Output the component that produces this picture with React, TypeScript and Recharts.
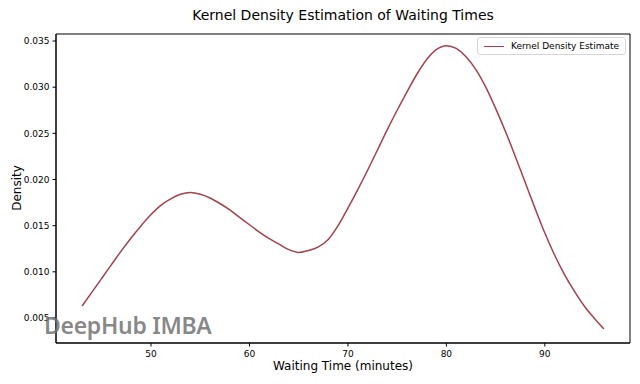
import { LineChart, Line, XAxis, YAxis, Legend, ReferenceArea } from 'recharts'

const waitingTime = [
  43, 44, 45, 46, 47, 48, 49, 50, 51, 52, 53, 54, 55, 56, 57, 58, 59, 60,
  61, 62, 63, 64, 65, 66, 67, 68, 69, 70, 71, 72, 73, 74, 75, 76, 77, 78,
  79, 80, 81, 82, 83, 84, 85, 86, 87, 88, 89, 90, 91, 92, 93, 94, 95, 96,
]

const density = [
  0.0063, 0.0078, 0.0093, 0.0108, 0.0123, 0.0137, 0.015, 0.0162, 0.0172, 0.0179, 0.0184, 0.0186,
  0.0184, 0.018, 0.0174, 0.0167, 0.0159, 0.0151, 0.0143, 0.0136, 0.013, 0.0124, 0.0121, 0.0123,
  0.0127, 0.0135, 0.015, 0.0169, 0.0189, 0.021, 0.0232, 0.0254, 0.0275, 0.0295, 0.0314, 0.033,
  0.0341, 0.0345, 0.0342, 0.0333, 0.0319, 0.03, 0.0277, 0.0252, 0.0225, 0.0197, 0.0169, 0.0142,
  0.0118, 0.0097, 0.0079, 0.0063, 0.005, 0.0038,
]

const xTicks = [50, 60, 70, 80, 90]
const yTicks = [0.005, 0.01, 0.015, 0.02, 0.025, 0.03, 0.035]
const seriesName = 'Kernel Density Estimate'

const data = waitingTime.map((t, i) => ({ t, kde: density[i] }))

const xDomain = [40.35, 98.65]
const yDomain = [0.00229, 0.03576]
const font = '"DejaVu Sans", sans-serif'
const lineColor = '#a3424b'
const tickStyle = { fill: '#000', fontSize: 9, fontFamily: font }

function LegendBox() {
  return (
    <div
      style={{
        display: 'flex',
        alignItems: 'center',
        border: '1px solid #d6d6d6',
        borderRadius: 3,
        background: 'rgba(255,255,255,0.85)',
        padding: '3px 6px 3px 6px',
        fontFamily: font,
        fontSize: 9,
        color: '#000',
        whiteSpace: 'nowrap',
      }}
    >
      <span style={{ display: 'inline-block', width: 20, height: 0, borderTop: `1.5px solid ${lineColor}`, marginRight: 7 }} />
      {seriesName}
    </div>
  )
}

export default function App() {
  return (
    <div style={{ position: 'fixed', left: 0, top: 0, width: 640, height: 384, background: '#fff' }}>
      <div
        style={{
          position: 'absolute',
          left: 56,
          width: 574,
          top: 7,
          textAlign: 'center',
          fontFamily: font,
          fontSize: 14,
          color: '#000',
        }}
      >
        Kernel Density Estimation of Waiting Times
      </div>

      <LineChart width={640} height={384} data={data} margin={{ top: 34, right: 10, bottom: 0, left: 0 }}>
        <XAxis
          dataKey="t"
          type="number"
          domain={xDomain}
          ticks={xTicks}
          allowDataOverflow
          height={41}
          tick={tickStyle}
          tickSize={3.5}
          tickMargin={4}
          tickLine={{ stroke: '#000' }}
          axisLine={{ stroke: '#000' }}
        />
        <YAxis
          type="number"
          domain={yDomain}
          ticks={yTicks}
          allowDataOverflow
          width={56}
          tick={tickStyle}
          tickSize={3.5}
          tickMargin={3}
          tickLine={{ stroke: '#000' }}
          axisLine={{ stroke: '#000' }}
          tickFormatter={(v: number) => v.toFixed(3)}
        />
        <ReferenceArea
          x1={xDomain[0]}
          x2={xDomain[1]}
          y1={yDomain[0]}
          y2={yDomain[1]}
          fill="none"
          stroke="#000"
          strokeWidth={1}
          ifOverflow="extendDomain"
        />
        <Legend
          layout="horizontal"
          verticalAlign="middle"
          align="center"
          content={() => <LegendBox />}
          wrapperStyle={{ top: 37, right: 14, left: 'auto', width: 'auto' }}
        />
        <Line
          type="monotone"
          dataKey="kde"
          name={seriesName}
          stroke={lineColor}
          strokeWidth={1.5}
          dot={false}
          isAnimationActive={false}
        />
      </LineChart>

      <div
        style={{
          position: 'absolute',
          left: 56,
          width: 574,
          top: 359,
          textAlign: 'center',
          fontFamily: font,
          fontSize: 12,
          color: '#000',
        }}
      >
        Waiting Time (minutes)
      </div>
      <div
        style={{
          position: 'absolute',
          left: 17,
          top: 188,
          transform: 'translate(-50%, -50%) rotate(-90deg)',
          fontFamily: font,
          fontSize: 12,
          color: '#000',
          whiteSpace: 'nowrap',
        }}
      >
        Density
      </div>
      <div
        style={{
          position: 'absolute',
          left: 44,
          top: 309,
          fontFamily: '"Noto Sans", sans-serif',
          fontWeight: 600,
          fontSize: 23,
          color: 'rgba(115,115,115,0.85)',
          letterSpacing: -0.3,
          whiteSpace: 'nowrap',
          pointerEvents: 'none',
        }}
      >
        DeepHub IMBA
      </div>
    </div>
  )
}
